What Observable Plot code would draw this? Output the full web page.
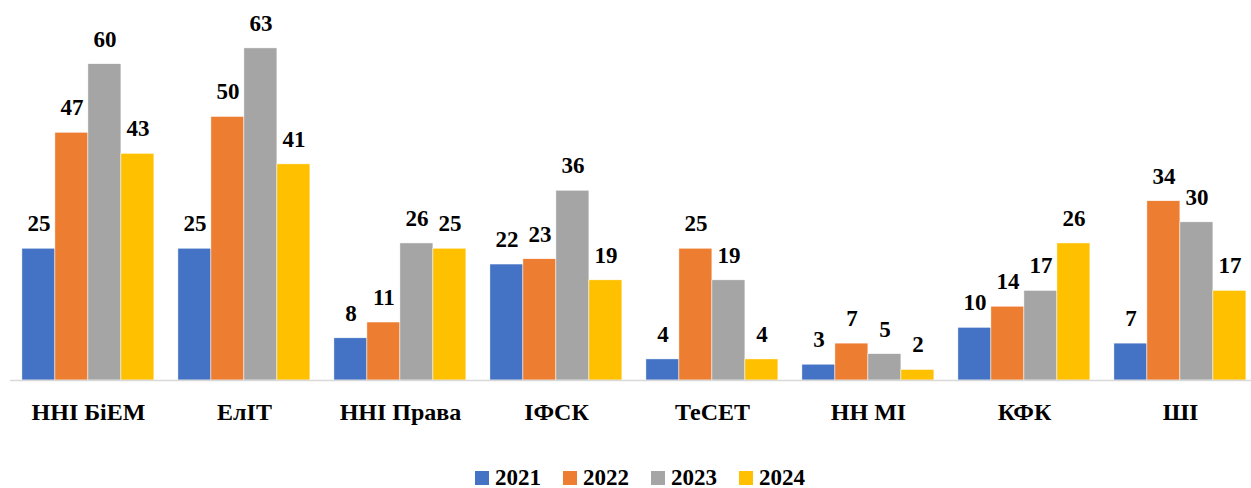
<!DOCTYPE html>
<html>
<head>
<meta charset="utf-8">
<script src="https://cdn.jsdelivr.net/npm/d3@7"></script>
<script src="https://cdn.jsdelivr.net/npm/@observablehq/plot@0.6"></script>
<style>
  html, body { margin: 0; padding: 0; background: #fff; overflow: hidden; }
  #chart { width: 1261px; }
  #chart svg { display: block; max-width: none !important; height: 440px !important; width: 1261px !important; }
  #legend { width: 1280px; height: 22px; display: flex; justify-content: center; align-items: center; padding-top: 27px; line-height: 22px;
    font-family: "Liberation Serif", Tinos, "Noto Serif", "DejaVu Serif", FreeSerif, Times, serif; font-weight: bold; font-size: 23px; color: #000; }
  .item { display: flex; align-items: center; margin: 0 11px; }
  .sw { width: 14px; height: 14px; margin-right: 6px; }
</style>
</head>
<body>
<div id="chart"></div>
<div id="legend"></div>
<script>
const categories = ["ННІ БіЕМ", "ЕлІТ", "ННІ Права", "ІФСК", "ТеСЕТ", "НН МІ", "КФК", "ШІ"];
const years = ["2021", "2022", "2023", "2024"];
const v2021 = [25, 25, 8, 22, 4, 3, 10, 7];
const v2022 = [47, 50, 11, 23, 25, 7, 14, 34];
const v2023 = [60, 63, 26, 36, 19, 5, 17, 30];
const v2024 = [43, 41, 25, 19, 4, 2, 26, 17];
const colors = ["#4472C4", "#ED7D31", "#A5A5A5", "#FFC000"];

const series = [v2021, v2022, v2023, v2024];
const data = [];
categories.forEach((c, i) => {
  years.forEach((y, j) => data.push({category: c, year: y, value: series[j][i]}));
});

const font = "'Liberation Serif', Tinos, 'Noto Serif', 'DejaVu Serif', FreeSerif, Times, serif";

const chart = Plot.plot({
  width: 1261,
  height: 440,
  marginLeft: 6.1,
  marginRight: 0,
  marginTop: 11,
  marginBottom: 60,
  style: {fontFamily: font, fontWeight: "bold", color: "#000", background: "#fff", maxWidth: "none"},
  fx: {domain: categories, padding: 0},
  x: {domain: years, paddingInner: 0, paddingOuter: 0.31, axis: null},
  y: {domain: [0, 70], axis: null},
  color: {domain: years, range: colors},
  marks: [
    Plot.barY(data, {fx: "category", x: "year", y: "value", fill: "year", stroke: "white", strokeWidth: 0.5}),
    Plot.ruleY([0], {stroke: "#D9D9D9", strokeWidth: 1.5}),
    Plot.text(data, {fx: "category", x: "year", y: "value", text: d => String(d.value), dy: -25,
      fontSize: 23, fontWeight: "bold", fill: "#000", fontFamily: font}),
    Plot.axisFx({anchor: "bottom", tickSize: 0, tickPadding: 22, label: null, fontSize: 24, fontWeight: "bold", fill: "#000", fontFamily: font})
  ]
});
document.getElementById("chart").appendChild(chart);

const legend = document.getElementById("legend");
years.forEach((y, j) => {
  const item = document.createElement("div");
  item.className = "item";
  const sw = document.createElement("div");
  sw.className = "sw";
  sw.style.background = colors[j];
  const t = document.createElement("span");
  t.textContent = y;
  item.appendChild(sw);
  item.appendChild(t);
  legend.appendChild(item);
});
</script>
</body>
</html>
